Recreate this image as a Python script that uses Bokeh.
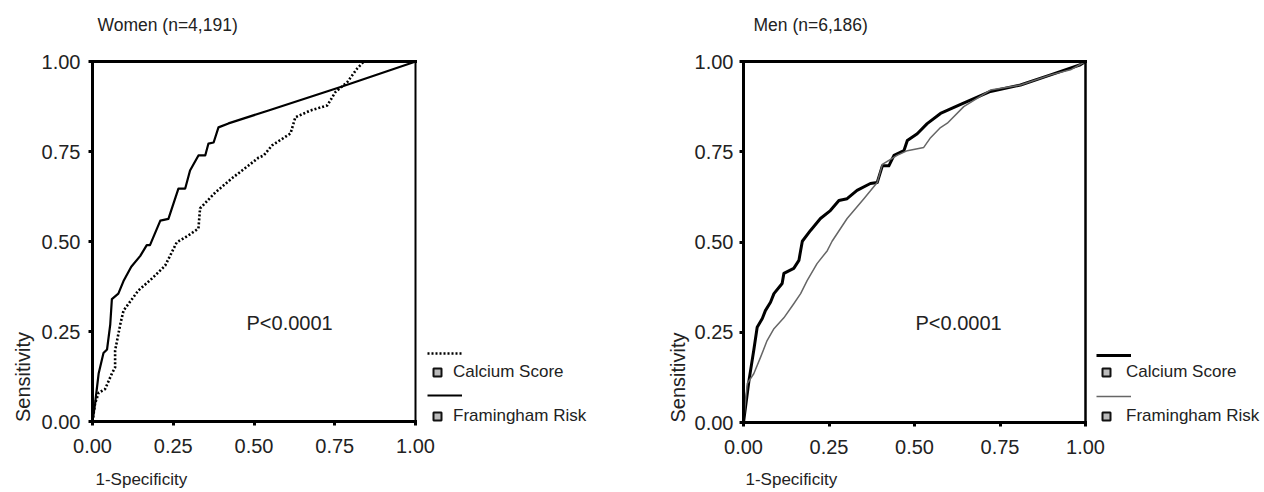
import math
from bokeh.plotting import figure
from bokeh.models import Range1d, FixedTicker, Label, Legend, LegendItem, LinearAxis
from bokeh.layouts import row
from bokeh.embed import file_html
from bokeh.resources import INLINE

FONT = "Liberation Sans"
TXT = "#222222"

# ---------------- data ----------------
tick_values = [0.0, 0.25, 0.5, 0.75, 1.0]
tick_labels = ["0.00", "0.25", "0.50", "0.75", "1.00"]

series_names = ["Calcium Score", "Framingham Risk"]
women_title = "Women (n=4,191)"
men_title = "Men (n=6,186)"
p_text = "P<0.0001"
x_label = "1-Specificity"
y_label = "Sensitivity"

women_cs_x = [0.0, 0.008, 0.019, 0.034, 0.045, 0.055, 0.06, 0.08, 0.096, 0.12, 0.148, 0.168, 0.178,
              0.21, 0.235, 0.266, 0.287, 0.302, 0.328, 0.349, 0.359, 0.375, 0.39, 0.421, 0.545, 0.768, 0.994, 1.0]
women_cs_y = [0.0, 0.05, 0.133, 0.19, 0.2, 0.27, 0.34, 0.355, 0.39, 0.43, 0.46, 0.49, 0.49,
              0.558, 0.563, 0.647, 0.647, 0.697, 0.739, 0.739, 0.772, 0.775, 0.817, 0.828, 0.864, 0.929, 0.998, 1.0]

women_fr_x = [0.0, 0.008, 0.019, 0.039, 0.06, 0.07, 0.07, 0.086, 0.096, 0.142, 0.184, 0.225, 0.261,
              0.297, 0.328, 0.333, 0.38, 0.431, 0.483, 0.514, 0.53, 0.556, 0.613, 0.628, 0.675, 0.727,
              0.752, 0.789, 0.819, 0.84, 1.0]
women_fr_y = [0.0, 0.05, 0.08, 0.09, 0.133, 0.15, 0.197, 0.27, 0.308, 0.364, 0.397, 0.433, 0.498,
              0.517, 0.536, 0.592, 0.636, 0.675, 0.711, 0.733, 0.739, 0.767, 0.8, 0.845, 0.864, 0.878,
              0.915, 0.943, 0.98, 1.0, 1.0]

men_cs_x = [0.0, 0.016, 0.03, 0.04, 0.055, 0.064, 0.079, 0.089, 0.113, 0.118, 0.147, 0.162, 0.167,
            0.172, 0.196, 0.225, 0.254, 0.279, 0.303, 0.332, 0.371, 0.391, 0.406, 0.425, 0.44, 0.469,
            0.479, 0.508, 0.537, 0.576, 0.635, 0.722, 0.81, 0.898, 0.985, 1.0]
men_cs_y = [0.0, 0.116, 0.2, 0.264, 0.288, 0.31, 0.333, 0.357, 0.385, 0.413, 0.427, 0.449, 0.476,
            0.502, 0.532, 0.565, 0.587, 0.615, 0.62, 0.643, 0.662, 0.665, 0.711, 0.711, 0.74, 0.753,
            0.781, 0.8, 0.828, 0.856, 0.881, 0.917, 0.935, 0.963, 0.991, 1.0]

men_fr_x = [0.0, 0.011, 0.03, 0.05, 0.069, 0.089, 0.118, 0.147, 0.167, 0.186, 0.215, 0.245, 0.259,
            0.303, 0.352, 0.391, 0.406, 0.449, 0.479, 0.527, 0.547, 0.576, 0.596, 0.644, 0.722,
            0.81, 0.898, 0.956, 1.0]
men_fr_y = [0.0, 0.108, 0.135, 0.181, 0.227, 0.26, 0.29, 0.329, 0.357, 0.393, 0.44, 0.476, 0.502,
            0.565, 0.62, 0.665, 0.715, 0.74, 0.753, 0.762, 0.789, 0.817, 0.829, 0.875, 0.921,
            0.935, 0.963, 0.977, 1.0]

# ---------------- geometry (page pixels) ----------------
H = 492
NAN = float("nan")


class Panel:
    def __init__(self, left, width, x0, x1, y0, y1):
        self.left, self.width = left, width
        self.x0, self.x1, self.y0, self.y1 = x0, x1, y0, y1

    def dx(self, px):
        return (px - self.x0) / (self.x1 - self.x0)

    def dy(self, py):
        return (self.y0 - py) / (self.y0 - self.y1)


def make_panel(G, ytick_standoff, top_w, right_w):
    p = figure(width=G.width, height=H,
               x_range=Range1d(G.dx(G.left), G.dx(G.left + G.width)),
               y_range=Range1d(G.dy(H), G.dy(0)),
               min_border=0, min_border_left=0, min_border_right=0, min_border_top=0, min_border_bottom=0,
               output_backend="svg", toolbar_location=None, tools="")
    p.grid.visible = False
    p.background_fill_color = "white"
    p.border_fill_color = "white"
    p.outline_line_color = None
    for ax in (p.xaxis[0], p.yaxis[0]):
        ax.fixed_location = 0
        ax.bounds = (0, 1)
        ax.ticker = FixedTicker(ticks=tick_values)
        ax.major_label_overrides = {v: l for v, l in zip(tick_values, tick_labels)}
        ax.axis_line_width = 3
        ax.axis_line_color = "black"
        ax.axis_line_cap = "square"
        ax.major_tick_line_width = 3
        ax.major_tick_line_color = "black"
        ax.major_tick_in = 0
        ax.major_tick_out = 4
        ax.minor_tick_line_color = None
        ax.major_label_text_font = FONT
        ax.major_label_text_font_size = "20px"
        ax.major_label_text_color = TXT
    p.xaxis[0].major_label_standoff = 13
    p.yaxis[0].major_label_standoff = ytick_standoff
    # frame: top and right edges
    top = LinearAxis(fixed_location=1, bounds=(0, 1), ticker=FixedTicker(ticks=[]),
                     axis_line_width=top_w, axis_line_color="black", axis_line_cap="square",
                     major_tick_line_color=None, minor_tick_line_color=None)
    right = LinearAxis(fixed_location=1, bounds=(0, 1), ticker=FixedTicker(ticks=[]),
                       axis_line_width=right_w, axis_line_color="black", axis_line_cap="square",
                       major_tick_line_color=None, minor_tick_line_color=None)
    p.add_layout(top, "above")
    p.add_layout(right, "right")
    return p


def add_text(p, G, text, px, py, size, align="left", baseline="middle", angle=0.0):
    p.add_layout(Label(x=G.dx(px), y=G.dy(py), text=text, text_font=FONT, text_font_size=size,
                       text_color=TXT, text_align=align, text_baseline=baseline, angle=angle))


def legends(p, G, line_renderers, a_left, a_bottom, a_spacing, b_bottom, b_spacing, standoff):
    legA = Legend(items=[LegendItem(label=" ", renderers=[r]) for r in line_renderers],
                  location=(a_left - G.left, H - a_bottom), orientation="vertical",
                  glyph_width=35, glyph_height=20, label_height=20, label_width=0,
                  label_text_font_size="1px", spacing=a_spacing, padding=0, margin=0,
                  border_line_color=None, background_fill_alpha=0, label_standoff=0)
    marks = [p.scatter(x=[NAN], y=[NAN], marker="square", size=5, fill_color="#bbbbbb",
                       line_color="#111111", line_width=2) for _ in series_names]
    legB = Legend(items=[LegendItem(label=n, renderers=[m]) for n, m in zip(series_names, marks)],
                  location=(a_left - G.left, H - b_bottom), orientation="vertical",
                  glyph_width=20, glyph_height=24, label_height=24, spacing=b_spacing,
                  padding=0, margin=0, border_line_color=None, background_fill_alpha=0,
                  label_standoff=standoff, label_text_font=FONT, label_text_font_size="17px",
                  label_text_color=TXT)
    p.add_layout(legA, "center")
    p.add_layout(legB, "center")


# ---------------- Women ----------------
GW = Panel(left=0, width=620, x0=92, x1=415, y0=421, y1=61)
p1 = make_panel(GW, 8, 3, 2)
w_cs = p1.line(women_cs_x, women_cs_y, line_color="black", line_width=2.2, line_join="round")
w_fr = p1.line(women_fr_x, women_fr_y, line_color="black", line_width=2.6, line_dash="2 2")
add_text(p1, GW, women_title, 97, 24, "17.5px")
add_text(p1, GW, p_text, 246, 322, "20px")
add_text(p1, GW, y_label, 22.5, 421.5, "20px", angle=math.pi / 2)
add_text(p1, GW, x_label, 95, 479, "17px")
legends(p1, GW, [w_fr, w_cs], 427, 405, 22, 428, 20, 6)

# ---------------- Men ----------------
GM = Panel(left=620, width=644, x0=743, x1=1085, y0=422, y1=61)
p2 = make_panel(GM, 6, 3, 2.5)
m_cs = p2.line(men_cs_x, men_cs_y, line_color="black", line_width=3, line_join="round")
m_fr = p2.line(men_fr_x, men_fr_y, line_color="#666666", line_width=1.5, line_join="round")
add_text(p2, GM, men_title, 753, 24, "17.5px")
add_text(p2, GM, p_text, 915, 322, "20px")
add_text(p2, GM, y_label, 677, 422, "20px", angle=math.pi / 2)
add_text(p2, GM, x_label, 745, 479, "17px")
legends(p2, GM, [m_cs, m_fr], 1096, 406, 21, 428, 20, 10)

layout = row(p1, p2)
open("out.html", "w").write(file_html(layout, INLINE))
